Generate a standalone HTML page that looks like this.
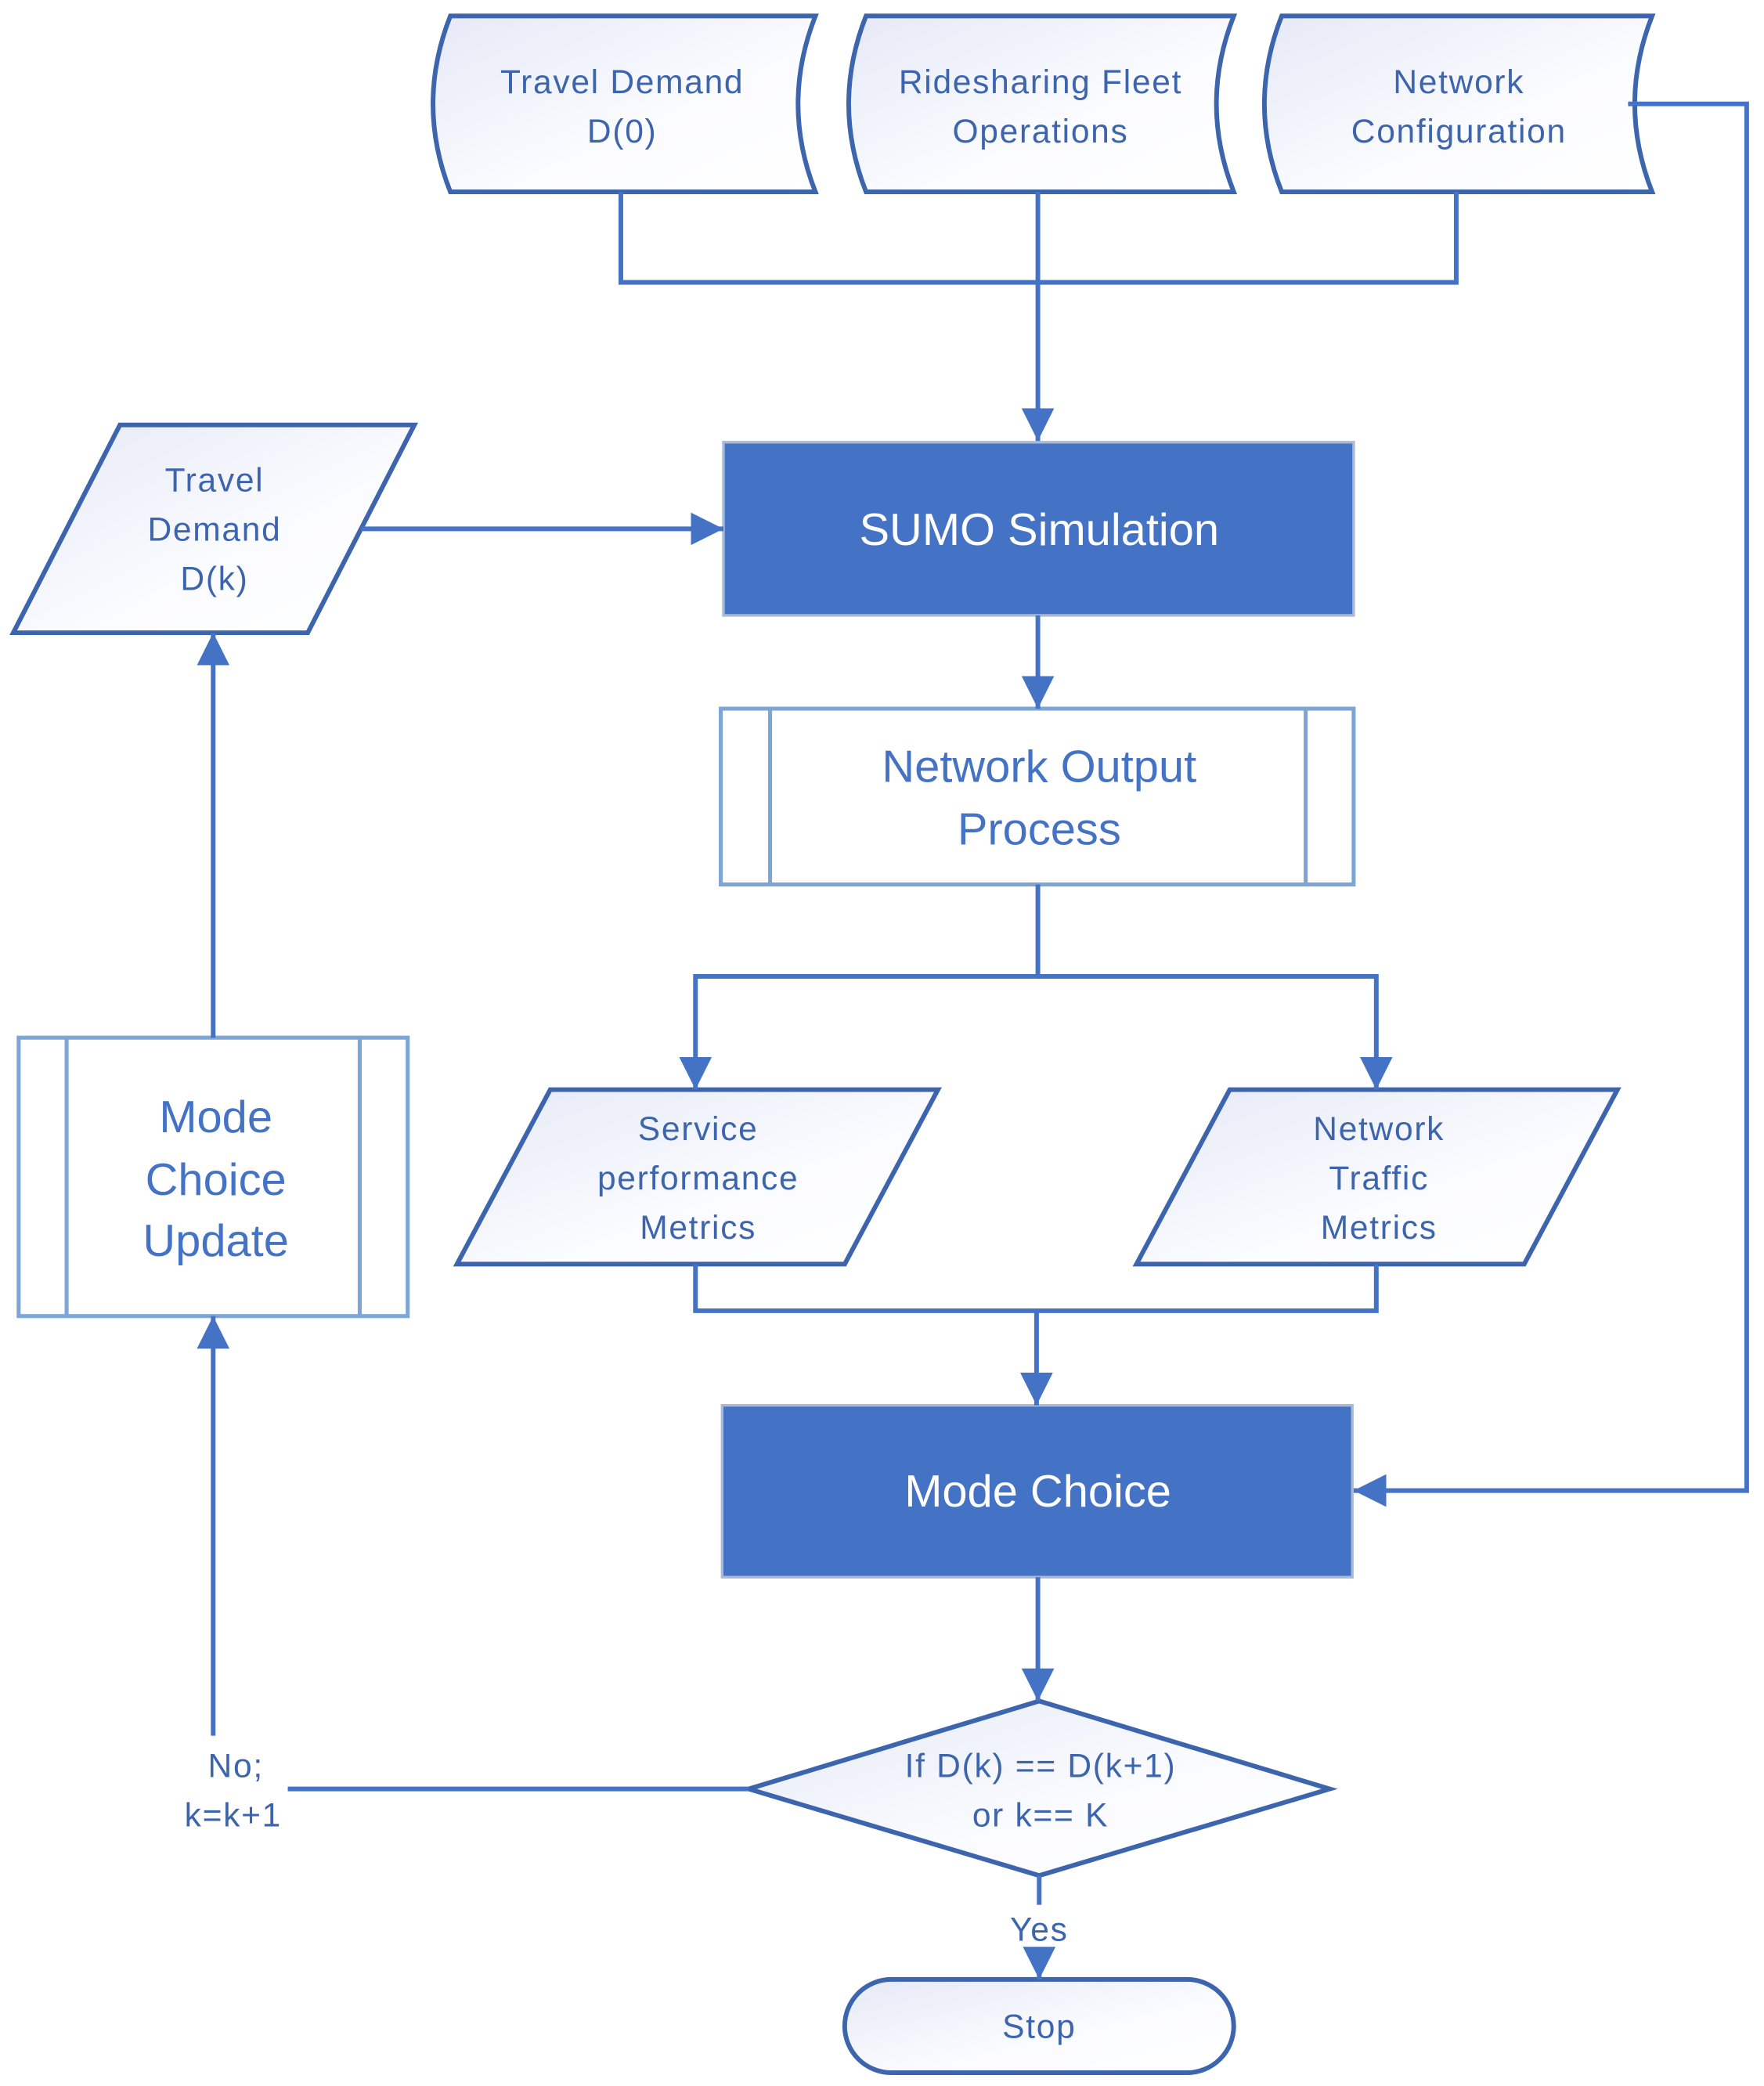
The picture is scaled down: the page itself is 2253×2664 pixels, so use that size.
<!DOCTYPE html>
<html><head><meta charset="utf-8"><style>html,body{margin:0;padding:0;background:#fff}svg{display:block}</style></head>
<body>
<svg width="2253" height="2664" viewBox="0 0 1324 1566" preserveAspectRatio="none" xmlns="http://www.w3.org/2000/svg" font-family="Liberation Sans, DejaVu Sans, sans-serif">
<defs>
<linearGradient id="g" x1="0" y1="0" x2="1" y2="1"><stop offset="0" stop-color="#e6e9f6"/><stop offset="0.6" stop-color="#fbfcff"/><stop offset="1" stop-color="#ffffff"/></linearGradient>
<marker id="a" viewBox="0 0 10 10" refX="10" refY="5" markerWidth="7" markerHeight="7" orient="auto" markerUnits="strokeWidth"><path d="M0,0 L10,5 L0,10 z" fill="#4472c4"/></marker>
</defs>
<g fill="url(#g)" stroke="#3d65ae" stroke-width="3.5">
<path d="M338,12 L612,12 Q586,78 612,144 L338,144 Q312,78 338,12 z"/>
<path d="M650,12 L926,12 Q900,78 926,144 L650,144 Q624,78 650,12 z"/>
<path d="M962,12 L1240,12 Q1214,78 1240,144 L962,144 Q936,78 962,12 z"/>
<path d="M90,319 L311,319 L231,475 L10,475 z"/>
<path d="M413,818 L704,818 L634,949 L343,949 z"/>
<path d="M923,818 L1214,818 L1144,949 L853,949 z"/>
<path d="M780,1277 L998,1343 L780,1408 L562,1343 z"/>
<rect x="634" y="1486" width="292" height="70" rx="35"/>
</g>
<rect x="543" y="332" width="473" height="130" fill="#4472c4" stroke="#a9b9d6" stroke-width="2"/>
<rect x="542" y="1055" width="473" height="129" fill="#4472c4" stroke="#a9b9d6" stroke-width="2"/>
<g fill="#fff" stroke="#7ea6d4" stroke-width="3">
<rect x="541" y="532" width="475" height="132"/>
<line x1="578" y1="532" x2="578" y2="664"/><line x1="980" y1="532" x2="980" y2="664"/>
<rect x="14" y="779" width="292" height="209"/>
<line x1="50" y1="779" x2="50" y2="988"/><line x1="270" y1="779" x2="270" y2="988"/>
</g>
<g fill="none" stroke="#4472c4" stroke-width="3.5">
<polyline points="466,144 466,212 1093,212 1093,144"/>
<line x1="779" y1="144" x2="779" y2="331" marker-end="url(#a)"/>
<polyline points="1222,78 1311,78 1311,1119 1016,1119" marker-end="url(#a)"/>
<line x1="271" y1="397" x2="543" y2="397" marker-end="url(#a)"/>
<line x1="779" y1="462" x2="779" y2="532" marker-end="url(#a)"/>
<polyline points="779,664 779,733 522,733 522,818" marker-end="url(#a)"/>
<polyline points="779,733 1033,733 1033,818" marker-end="url(#a)"/>
<polyline points="522,949 522,984 1033,984 1033,949"/>
<line x1="778" y1="984" x2="778" y2="1055" marker-end="url(#a)"/>
<line x1="779" y1="1184" x2="779" y2="1277" marker-end="url(#a)"/>
<line x1="562" y1="1343" x2="216" y2="1343"/>
<line x1="160" y1="1303" x2="160" y2="988" marker-end="url(#a)"/>
<line x1="160" y1="779" x2="160" y2="475" marker-end="url(#a)"/>
<line x1="780" y1="1408" x2="780" y2="1430"/>
<line x1="780" y1="1464" x2="780" y2="1486" marker-end="url(#a)"/>
</g>
<g fill="#3d65ae" font-size="25" text-anchor="middle" letter-spacing="1">
<text x="467" y="70">Travel Demand</text><text x="467" y="107">D(0)</text>
<text x="781" y="70">Ridesharing Fleet</text><text x="781" y="107">Operations</text>
<text x="1095" y="70">Network</text><text x="1095" y="107">Configuration</text>
<text x="161" y="369">Travel</text><text x="161" y="406">Demand</text><text x="161" y="443">D(k)</text>
<text x="524" y="856">Service</text><text x="524" y="893">performance</text><text x="524" y="930">Metrics</text>
<text x="1035" y="856">Network</text><text x="1035" y="893">Traffic</text><text x="1035" y="930">Metrics</text>
<text x="781" y="1334">If D(k) == D(k+1)</text><text x="781" y="1371">or k== K</text>
<text x="177" y="1334">No;</text><text x="175" y="1371">k=k+1</text>
<text x="780" y="1457">Yes</text>
<text x="780" y="1530">Stop</text>
</g>
<g font-size="34" text-anchor="middle">
<text x="780" y="409" fill="#fff">SUMO Simulation</text>
<text x="779" y="1131" fill="#fff">Mode Choice</text>
<text x="780" y="587" fill="#4472c4">Network Output</text><text x="780" y="634" fill="#4472c4">Process</text>
<text x="162" y="850" fill="#4472c4">Mode</text><text x="162" y="897" fill="#4472c4">Choice</text><text x="162" y="943" fill="#4472c4">Update</text>
</g>
</svg>
</body></html>
